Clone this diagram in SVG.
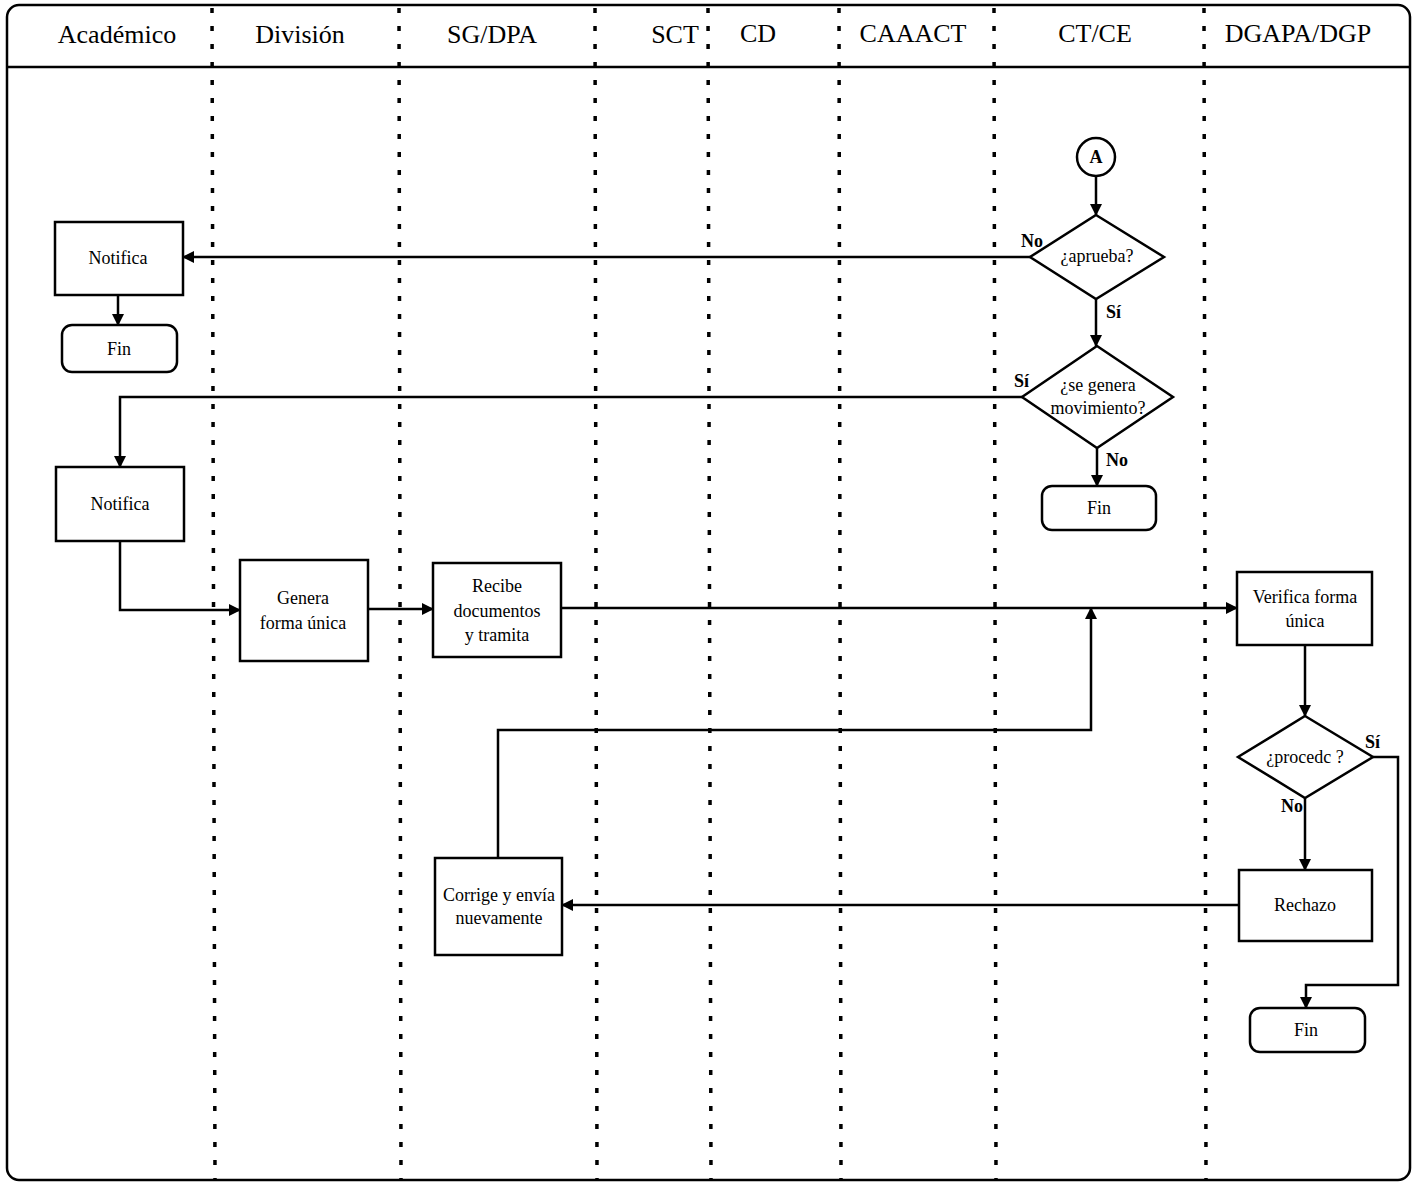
<svg xmlns="http://www.w3.org/2000/svg" width="1413" height="1182" viewBox="0 0 1413 1182">
<style>
.frame{fill:none;stroke:#000;stroke-width:2.5}
.lane{stroke:#000;stroke-width:3.5;stroke-dasharray:5 13;fill:none}
.hdr{font-family:"Liberation Serif","Times New Roman",serif;font-size:26px;text-anchor:middle;fill:#000}
.box{fill:#fff;stroke:#000;stroke-width:2.5}
.t{font-family:"Liberation Serif","Times New Roman",serif;font-size:18px;text-anchor:middle;fill:#000}
.lbl{font-family:"Liberation Serif","Times New Roman",serif;font-size:18px;font-weight:bold;fill:#000}
.edge{fill:none;stroke:#000;stroke-width:2.5}
</style>
<defs>
<marker id="arr" viewBox="0 0 12 12" refX="11" refY="6" markerWidth="12" markerHeight="12" markerUnits="userSpaceOnUse" orient="auto">
<path d="M0,0 L12,6 L0,12 z" fill="#000"/>
</marker>
</defs>
<rect width="1413" height="1182" fill="#fff"/>
<g id="frame">
<rect class="frame" x="7" y="5" width="1403" height="1175" rx="12"/>
<line class="frame" x1="7" y1="67" x2="1410" y2="67"/>
</g>
<g id="lanes">
<line class="lane" x1="212" y1="8" x2="215" y2="1180"/>
<line class="lane" x1="399" y1="8" x2="401" y2="1180"/>
<line class="lane" x1="595" y1="8" x2="597" y2="1180"/>
<line class="lane" x1="708" y1="8" x2="711" y2="1180"/>
<line class="lane" x1="839" y1="8" x2="841" y2="1180"/>
<line class="lane" x1="994" y1="8" x2="996" y2="1180"/>
<line class="lane" x1="1204" y1="8" x2="1206" y2="1180"/>
</g>
<g id="headers">
<text class="hdr" x="117" y="43">Académico</text>
<text class="hdr" x="300" y="43">División</text>
<text class="hdr" x="492" y="43">SG/DPA</text>
<text class="hdr" x="675" y="43">SCT</text>
<text class="hdr" x="758" y="42">CD</text>
<text class="hdr" x="913" y="42">CAAACT</text>
<text class="hdr" x="1095" y="42">CT/CE</text>
<text class="hdr" x="1298" y="42">DGAPA/DGP</text>
</g>
<g id="connectors">
<line class="edge" x1="1096" y1="176" x2="1096" y2="215" marker-end="url(#arr)"/>
<line class="edge" x1="1030" y1="257" x2="183" y2="257" marker-end="url(#arr)"/>
<line class="edge" x1="118" y1="295" x2="118" y2="325" marker-end="url(#arr)"/>
<line class="edge" x1="1096" y1="299" x2="1096" y2="346" marker-end="url(#arr)"/>
<polyline class="edge" points="1022,397 120,397 120,467" marker-end="url(#arr)"/>
<line class="edge" x1="1097" y1="448" x2="1097" y2="486" marker-end="url(#arr)"/>
<polyline class="edge" points="120,541 120,610 240,610" marker-end="url(#arr)"/>
<line class="edge" x1="368" y1="609" x2="433" y2="609" marker-end="url(#arr)"/>
<line class="edge" x1="561" y1="608" x2="1237" y2="608" marker-end="url(#arr)"/>
<polyline class="edge" points="498,858 498,730 1091,730 1091,608" marker-end="url(#arr)"/>
<line class="edge" x1="1305" y1="645" x2="1305" y2="716" marker-end="url(#arr)"/>
<line class="edge" x1="1305" y1="798" x2="1305" y2="870" marker-end="url(#arr)"/>
<line class="edge" x1="1239" y1="905" x2="562" y2="905" marker-end="url(#arr)"/>
<polyline class="edge" points="1373,757 1398,757 1398,985 1306,985 1306,1008" marker-end="url(#arr)"/>
</g>
<g id="labels">
<text class="lbl" x="1021" y="247">No</text>
<text class="lbl" x="1106" y="318">Sí</text>
<text class="lbl" x="1014" y="387">Sí</text>
<text class="lbl" x="1106" y="466">No</text>
<text class="lbl" x="1365" y="748">Sí</text>
<text class="lbl" x="1281" y="812">No</text>
</g>
<g id="nodeA">
<circle class="box" cx="1096" cy="157" r="19"/>
<text class="t" x="1096" y="163" font-weight="bold" font-size="16">A</text>
</g>
<g id="aprueba">
<polygon class="box" points="1096,215 1164,257 1096,299 1030,257"/>
<text class="t" x="1097" y="262">¿aprueba?</text>
</g>
<g id="genera-mov">
<polygon class="box" points="1097,346 1173,397 1097,448 1022,397"/>
<text class="t" x="1098" y="391">¿se genera</text>
<text class="t" x="1098" y="414">movimiento?</text>
</g>
<g id="fin-ct">
<rect class="box" x="1042" y="486" width="114" height="44" rx="10"/>
<text class="t" x="1099" y="514">Fin</text>
</g>
<g id="notifica1">
<rect class="box" x="55" y="222" width="128" height="73"/>
<text class="t" x="118" y="264">Notifica</text>
</g>
<g id="fin1">
<rect class="box" x="62" y="325" width="115" height="47" rx="10"/>
<text class="t" x="119" y="355">Fin</text>
</g>
<g id="notifica2">
<rect class="box" x="56" y="467" width="128" height="74"/>
<text class="t" x="120" y="510">Notifica</text>
</g>
<g id="genera">
<rect class="box" x="240" y="560" width="128" height="101"/>
<text class="t" x="303" y="604">Genera</text>
<text class="t" x="303" y="629">forma única</text>
</g>
<g id="recibe">
<rect class="box" x="433" y="563" width="128" height="94"/>
<text class="t" x="497" y="592">Recibe</text>
<text class="t" x="497" y="617">documentos</text>
<text class="t" x="497" y="641">y tramita</text>
</g>
<g id="verifica">
<rect class="box" x="1237" y="572" width="135" height="73"/>
<text class="t" x="1305" y="603">Verifica forma</text>
<text class="t" x="1305" y="627">única</text>
</g>
<g id="procede">
<polygon class="box" points="1305,716 1373,757 1305,798 1238,757"/>
<text class="t" x="1305" y="763">¿procedc ?</text>
</g>
<g id="rechazo">
<rect class="box" x="1239" y="870" width="133" height="71"/>
<text class="t" x="1305" y="911">Rechazo</text>
</g>
<g id="corrige">
<rect class="box" x="435" y="858" width="127" height="97"/>
<text class="t" x="499" y="901">Corrige y envía</text>
<text class="t" x="499" y="924">nuevamente</text>
</g>
<g id="fin3">
<rect class="box" x="1250" y="1008" width="115" height="44" rx="10"/>
<text class="t" x="1306" y="1036">Fin</text>
</g>
</svg>
